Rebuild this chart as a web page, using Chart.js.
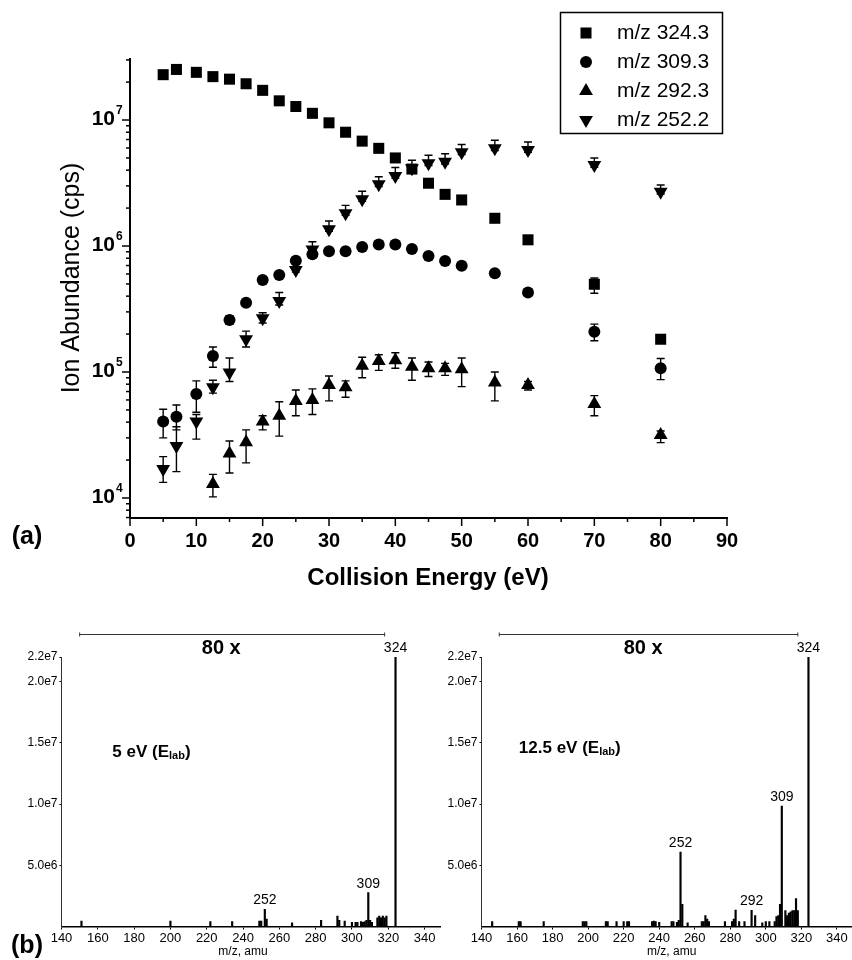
<!DOCTYPE html>
<html lang="en">
  <head>
    <meta charset="UTF-8" />
    <title>Ion abundance vs collision energy</title>
    <script src="https://cdn.jsdelivr.net/npm/chart.js"></script>
    <style>
      body { margin: 0; background: #fff; }
      #wrap { position: relative; width: 852px; height: 960px; }
      canvas { position: absolute; }
    </style>
  </head>
  <body>
    <div id="wrap">
      <canvas id="breakdown" width="852" height="600" style="left:0;top:0"></canvas>
      <canvas id="spec5" width="442" height="360" style="left:0;top:600px"></canvas>
      <canvas id="spec12" width="410" height="360" style="left:442px;top:600px"></canvas>
    </div>

    <script>
      // ---- (a) breakdown curves ----
      const energy = [5, 7, 10, 12.5, 15, 17.5, 20, 22.5, 25, 27.5, 30, 32.5, 35, 37.5, 40, 42.5, 45, 47.5, 50, 55, 60, 70, 80];
      const mz324 = [2.29e7, 2.52e7, 2.39e7, 2.21e7, 2.11e7, 1.94e7, 1.72e7, 1.42e7, 1.28e7, 1.13e7, 9.5e6, 8.0e6, 6.8e6, 5.96e6, 5.0e6, 4.08e6, 3.15e6, 2.57e6, 2.32e6, 1.66e6, 1.12e6, 4.97e5, 1.82e5];
      const mz309 = [4.04e4, 4.42e4, 6.68e4, 1.34e5, 2.59e5, 3.55e5, 5.37e5, 5.89e5, 7.64e5, 8.6e5, 9.1e5, 9.1e5, 9.8e5, 1.03e6, 1.03e6, 9.46e5, 8.33e5, 7.6e5, 6.98e5, 6.07e5, 4.27e5, 2.09e5, 1.07e5];
      const mz292 = [null, null, null, 1.29e4, 2.26e4, 2.77e4, 4.04e4, 4.5e4, 5.89e4, 6.0e4, 7.9e4, 7.56e4, 1.12e5, 1.22e5, 1.24e5, 1.1e5, 1.07e5, 1.07e5, 1.05e5, 8.24e4, 7.9e4, 5.57e4, 3.16e4];
      const mz252 = [1.7e4, 2.59e4, 4.04e4, 7.56e4, 9.9e4, 1.82e5, 2.67e5, 3.66e5, 6.45e5, 9.4e5, 1.36e6, 1.82e6, 2.35e6, 3.09e6, 3.6e6, 4.14e6, 4.53e6, 4.67e6, 5.54e6, 5.96e6, 5.78e6, 4.4e6, 2.7e6];

      // error bars (low / high ends), null where none shows
      const err324Lo = [null, null, null, null, null, null, null, null, null, null, null, null, null, null, null, null, null, null, null, null, null, 4.22e5, null];
      const err324Hi = [null, null, null, null, null, null, null, null, null, null, null, null, null, null, null, null, null, null, null, null, null, 5.57e5, null];
      const err309Lo = [3.0e4, 3.47e4, 4.79e4, 1.09e5, 2.4e5, null, null, null, null, null, null, null, null, null, null, null, null, null, null, null, null, 1.77e5, 8.7e4];
      const err309Hi = [5.06e4, 5.47e4, 8.5e4, 1.58e5, 2.8e5, null, null, null, null, null, null, null, null, null, null, null, null, null, null, null, null, 2.4e5, 1.28e5];
      const err292Lo = [null, null, null, 1.02e4, 1.58e4, 1.9e4, 3.47e4, 3.1e4, 4.5e4, 4.6e4, 5.9e4, 6.3e4, 9.0e4, 1.03e5, 1.07e5, 8.6e4, 9.2e4, 9.4e4, 7.66e4, 5.9e4, 7.2e4, 4.5e4, 2.75e4];
      const err292Hi = [null, null, null, 1.54e4, 2.83e4, 3.47e4, 4.5e4, 5.8e4, 7.2e4, 7.35e4, 9.3e4, 8.5e4, 1.31e5, 1.37e5, 1.42e5, 1.29e5, 1.2e5, 1.17e5, 1.29e5, 1.0e5, 8.4e4, 6.5e4, 3.4e4];
      const err252Lo = [1.33e4, 1.62e4, 2.93e4, 6.8e4, 8.4e4, 1.58e5, 2.45e5, 3.4e5, 6.2e5, 9.0e5, 1.31e6, 1.75e6, 2.26e6, 2.97e6, 3.46e6, 3.97e6, 4.35e6, 4.48e6, 5.32e6, 5.72e6, 5.55e6, 4.22e6, 2.59e6];
      const err252Hi = [2.13e4, 3.68e4, 4.6e4, 8.6e4, 1.29e5, 2.11e5, 2.95e5, 4.27e5, 7.5e5, 1.08e6, 1.58e6, 2.1e6, 2.72e6, 3.55e6, 4.2e6, 4.8e6, 5.25e6, 5.4e6, 6.4e6, 6.9e6, 6.7e6, 5.0e6, 3.05e6];

      const seriesLabels = ["m/z 324.3", "m/z 309.3", "m/z 292.3", "m/z 252.2"];
      const energyTicks = [0, 10, 20, 30, 40, 50, 60, 70, 80, 90];
      const abundanceDecades = [1e4, 1e5, 1e6, 1e7];

      // ---- (b) product ion spectra ----
      const spec5Mz = [151, 200, 222, 234, 249, 250, 252, 253, 267, 283, 292, 293, 296, 300, 302, 303, 305, 306, 307, 308, 309, 310, 311, 314, 315, 316, 317, 318, 319, 324];
      const spec5Int = [4.5e5, 4.5e5, 4.0e5, 4.0e5, 4.5e5, 4.5e5, 1.4e6, 6.0e5, 3.0e5, 5.0e5, 8.5e5, 5.0e5, 4.5e5, 3.5e5, 3.5e5, 3.5e5, 4.0e5, 3.5e5, 4.0e5, 5.0e5, 2.76e6, 5.0e5, 3.5e5, 7.0e5, 8.5e5, 7.0e5, 8.5e5, 7.0e5, 8.5e5, 2.2e7];
      const spec12Mz = [146, 161, 162, 175, 197, 198, 199, 210, 211, 216, 220, 222, 223, 236, 237, 238, 240, 247, 248, 250, 251, 252, 253, 256, 264, 265, 266, 267, 268, 277, 281, 282, 283, 285, 288, 292, 294, 298, 300, 302, 305, 306, 307, 308, 309, 311, 312, 313, 314, 315, 316, 317, 318, 324];
      const spec12Int = [4e5, 4e5, 4e5, 4e5, 4e5, 4e5, 4e5, 4e5, 4e5, 4e5, 4e5, 4e5, 4e5, 4e5, 4.5e5, 4e5, 3.5e5, 4e5, 4e5, 3.5e5, 5e5, 6.08e6, 1.8e6, 3e5, 4e5, 4e5, 9e5, 6e5, 4e5, 4e5, 4e5, 6e5, 1.35e6, 4e5, 4e5, 1.31e6, 9e5, 3e5, 4e5, 4e5, 4e5, 8e5, 9e5, 1.8e6, 9.83e6, 1.3e6, 9e5, 1.1e6, 1.2e6, 1.3e6, 1.3e6, 2.28e6, 1.3e6, 2.2e7];
      const spec5Labels = [252, 309, 324];
      const spec12Labels = [252, 292, 309, 324];
      const specXTicks = [140, 160, 180, 200, 220, 240, 260, 280, 300, 320, 340];
      const specYTicks = [5e6, 1e7, 1.5e7, 2e7, 2.2e7];
      const specYLabels = ["5.0e6", "1.0e7", "1.5e7", "2.0e7", "2.2e7"];
      const zoomRange = [150, 318]; // the "80 x" bracket, in m/z

      const FONT = "'Liberation Sans', Arial, sans-serif";
      const NARROW = "'Liberation Sans Narrow', 'Liberation Sans', Arial, sans-serif";
      Chart.defaults.font.family = FONT;
      Chart.defaults.color = "#000";

      const series = [
        { label: seriesLabels[0], values: mz324, lo: err324Lo, hi: err324Hi, style: "rect", radius: 7.8, rotation: 0 },
        { label: seriesLabels[1], values: mz309, lo: err309Lo, hi: err309Hi, style: "circle", radius: 6, rotation: 0 },
        { label: seriesLabels[2], values: mz292, lo: err292Lo, hi: err292Hi, style: "triangle", radius: 8, rotation: 0 },
        { label: seriesLabels[3], values: mz252, lo: err252Lo, hi: err252Hi, style: "triangle", radius: 8, rotation: 180 },
      ];

      const toPoints = (vals) => energy.map((e, i) => ({ x: e, y: vals[i] })).filter((p) => p.y != null);

      // error bars go under the markers
      const errorBars = {
        id: "errorBars",
        beforeDatasetsDraw(chart) {
          const { ctx, scales: { x, y } } = chart;
          ctx.save();
          ctx.strokeStyle = "#000";
          ctx.lineWidth = 1.4;
          series.forEach((s) => {
            energy.forEach((e, i) => {
              if (s.lo[i] == null || s.hi[i] == null) return;
              const px = x.getPixelForValue(e);
              const y1 = y.getPixelForValue(s.lo[i]);
              const y2 = y.getPixelForValue(s.hi[i]);
              ctx.beginPath();
              ctx.moveTo(px, y1); ctx.lineTo(px, y2);
              ctx.moveTo(px - 4, y1); ctx.lineTo(px + 4, y1);
              ctx.moveTo(px - 4, y2); ctx.lineTo(px + 4, y2);
              ctx.stroke();
            });
          });
          ctx.restore();
        },
      };

      // ticks, superscript labels, titles and the boxed legend
      const decorA = {
        id: "decorA",
        afterDraw(chart) {
          const { ctx, scales: { x, y } } = chart;
          ctx.save();
          ctx.strokeStyle = "#000";
          ctx.lineWidth = 1.5;
          for (let v = 0; v <= 90; v += 5) {
            const px = x.getPixelForValue(v);
            ctx.beginPath();
            ctx.moveTo(px, x.top);
            ctx.lineTo(px, x.top + (v % 10 === 0 ? 8 : 4));
            ctx.stroke();
          }
          for (let d = 3; d <= 7; d++) {
            for (let m = 1; m <= 9; m++) {
              const v = m * Math.pow(10, d);
              if (v < y.min || v > y.max) continue;
              const py = y.getPixelForValue(v);
              ctx.beginPath();
              ctx.moveTo(y.right - (m === 1 ? 8 : 4), py);
              ctx.lineTo(y.right, py);
              ctx.stroke();
            }
          }

          ctx.fillStyle = "#000";
          ctx.textBaseline = "middle";
          abundanceDecades.forEach((v) => {
            const py = y.getPixelForValue(v);
            ctx.font = "bold 21px " + FONT;
            ctx.textAlign = "right";
            ctx.fillText("10", y.right - 15, py - 1);
            ctx.font = "bold 12px " + FONT;
            ctx.textAlign = "left";
            ctx.fillText(String(Math.round(Math.log10(v))), y.right - 14, py - 9);
          });

          ctx.textAlign = "center";
          ctx.font = "bold 24px " + FONT;
          ctx.fillText("Collision Energy (eV)", 428, 578);
          ctx.font = "bold 25px " + FONT;
          ctx.fillText("(a)", 27, 537);
          ctx.save();
          ctx.translate(72, 278);
          ctx.rotate(-Math.PI / 2);
          ctx.font = "25px " + FONT;
          ctx.fillText("Ion Abundance (cps)", 0, 0);
          ctx.restore();

          // legend
          ctx.lineWidth = 1.5;
          ctx.strokeRect(560.5, 12.5, 162, 121);
          series.forEach((s, i) => {
            const ly = 33 + i * 29;
            Chart.helpers.drawPoint(ctx, { pointStyle: s.style, radius: s.radius, rotation: s.rotation, borderWidth: 0 }, 586, ly);
            ctx.font = "21px " + FONT;
            ctx.textAlign = "left";
            ctx.fillText(s.label, 617, ly);
          });
          ctx.restore();
        },
      };

      new Chart(document.getElementById("breakdown"), {
        type: "scatter",
        data: {
          datasets: series.map((s) => ({
            label: s.label,
            data: toPoints(s.values),
            pointStyle: s.style,
            pointRadius: s.radius,
            pointHoverRadius: s.radius,
            pointRotation: s.rotation,
            pointBorderWidth: 0,
            backgroundColor: "#000",
            borderColor: "#000",
          })),
        },
        options: {
          responsive: false,
          animation: false,
          events: [],
          layout: { padding: { top: 59, right: 125, left: 0, bottom: 0 } },
          plugins: { legend: { display: false }, tooltip: { enabled: false } },
          scales: {
            x: {
              type: "linear",
              min: 0,
              max: 90,
              afterBuildTicks: (s) => { s.ticks = energyTicks.map((v) => ({ value: v })); },
              afterFit: (s) => { s.height = 82; },
              grid: { display: false, drawTicks: false },
              border: { display: true, color: "#000", width: 2 },
              ticks: { font: { size: 20, weight: "bold" }, color: "#000", padding: 11, maxRotation: 0 },
            },
            y: {
              type: "logarithmic",
              min: 6938,
              max: 3.05e7,
              afterFit: (s) => { s.width = 130; },
              grid: { display: false, drawTicks: false },
              border: { display: true, color: "#000", width: 2 },
              ticks: { display: false },
            },
          },
        },
        plugins: [errorBars, decorA],
      });

      // ---- (b) spectra ----
      function drawNote(ctx, x, y, main, sub) {
        ctx.textAlign = "left";
        ctx.textBaseline = "middle";
        ctx.font = "bold 17px " + FONT;
        ctx.fillText(main, x, y);
        let cx = x + ctx.measureText(main).width;
        ctx.font = "bold 11px " + FONT;
        ctx.fillText(sub, cx, y + 4);
        cx += ctx.measureText(sub).width;
        ctx.font = "bold 17px " + FONT;
        ctx.fillText(")", cx, y);
      }

      function makeSpectrum(id, mz, inten, labeled, cfg) {
        const decor = {
          id: "decor" + id,
          afterDraw(chart) {
            const { ctx, scales: { x, y } } = chart;
            ctx.save();
            ctx.fillStyle = "#000";
            ctx.strokeStyle = "#333";
            ctx.lineWidth = 1;
            // 80 x bracket
            const bx1 = x.getPixelForValue(zoomRange[0]);
            const bx2 = x.getPixelForValue(zoomRange[1]);
            const by = 34.5;
            ctx.beginPath();
            ctx.moveTo(bx1, by); ctx.lineTo(bx2, by);
            ctx.moveTo(bx1, by - 2); ctx.lineTo(bx1, by + 2);
            ctx.moveTo(bx2, by - 2); ctx.lineTo(bx2, by + 2);
            ctx.stroke();
            ctx.textAlign = "center";
            ctx.textBaseline = "middle";
            ctx.font = "bold 20px " + FONT;
            ctx.fillText("80 x", x.getPixelForValue(cfg.bracketTextAt), 48);

            // peak labels
            ctx.font = "14px " + FONT;
            labeled.forEach((m) => {
              const i = mz.indexOf(m);
              ctx.fillText(String(m), x.getPixelForValue(m), y.getPixelForValue(inten[i]) - 9);
            });

            ctx.font = "12px " + NARROW;
            ctx.fillText("m/z, amu", x.getPixelForValue(cfg.xTitleAt), 352);

            drawNote(ctx, x.getPixelForValue(cfg.noteAt), cfg.noteY, cfg.note, "lab");

            if (cfg.panel) {
              ctx.textAlign = "center";
              ctx.font = "bold 25px " + FONT;
              ctx.fillText(cfg.panel, 27, 346);
            }
            ctx.restore();
          },
        };

        new Chart(document.getElementById(id), {
          type: "bar",
          data: {
            datasets: [{
              data: mz.map((m, i) => ({ x: m, y: inten[i] })),
              backgroundColor: "#000",
              borderWidth: 0,
              barThickness: 1.5,
            }],
          },
          options: {
            responsive: false,
            animation: false,
            events: [],
            layout: { padding: { top: 57, right: cfg.padRight, left: 0, bottom: 0 } },
            plugins: { legend: { display: false }, tooltip: { enabled: false } },
            scales: {
              x: {
                type: "linear",
                min: 140,
                max: 348.5,
                offset: false,
                afterBuildTicks: (s) => { s.ticks = specXTicks.map((v) => ({ value: v })); },
                afterFit: (s) => { s.height = 33.5; },
                grid: { offset: false, drawOnChartArea: false, tickLength: 3, color: "#000" },
                border: { display: true, color: "#000", width: 1.5 },
                ticks: { font: { size: 13, family: NARROW }, color: "#000", padding: 1, maxRotation: 0, autoSkip: false },
              },
              y: {
                min: 0,
                max: 2.2e7,
                afterBuildTicks: (s) => { s.ticks = specYTicks.map((v) => ({ value: v })); },
                afterFit: (s) => { s.width = cfg.yWidth; },
                grid: { drawOnChartArea: false, tickLength: 2, color: "#000" },
                border: { display: true, color: "#333", width: 1 },
                ticks: {
                  font: { size: 12, family: NARROW },
                  color: "#000",
                  padding: 2,
                  callback: (v) => specYLabels[specYTicks.indexOf(v)],
                },
              },
            },
          },
          plugins: [decor],
        });
      }

      makeSpectrum("spec5", spec5Mz, spec5Int, spec5Labels, {
        yWidth: 61.5, padRight: 2, bracketTextAt: 228, xTitleAt: 240, noteAt: 168, noteY: 152, note: "5 eV (E", panel: "(b)",
      });
      makeSpectrum("spec12", spec12Mz, spec12Int, spec12Labels, {
        yWidth: 39.5, padRight: 0, bracketTextAt: 231, xTitleAt: 247, noteAt: 161, noteY: 148, note: "12.5 eV (E", panel: null,
      });
    </script>
  </body>
</html>
